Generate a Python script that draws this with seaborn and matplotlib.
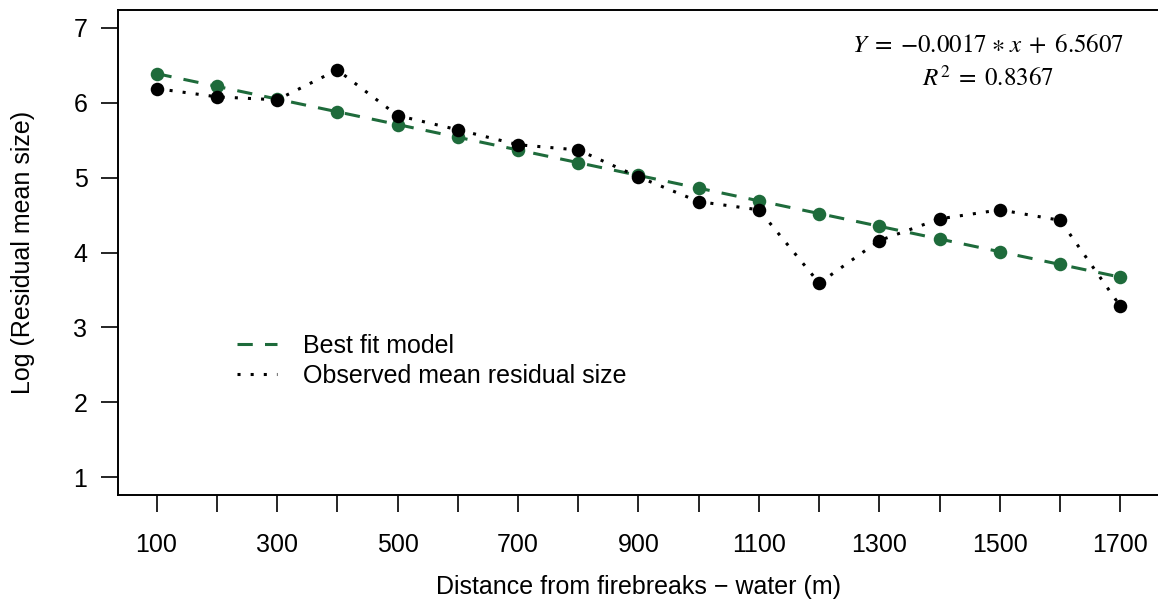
import matplotlib
matplotlib.use("Agg")
import matplotlib.pyplot as plt
import seaborn as sns
import pandas as pd

# Distance from firebreaks (m)
distance = [100, 200, 300, 400, 500, 600, 700, 800, 900,
            1000, 1100, 1200, 1300, 1400, 1500, 1600, 1700]
# Observed mean residual size (log scale)
observed = [6.19, 6.08, 6.04, 6.44, 5.83, 5.64, 5.44, 5.37, 5.01,
            4.68, 4.57, 3.59, 4.16, 4.45, 4.57, 4.43, 3.28]
# Fitted values of the linear model
fitted = [6.39, 6.22, 6.05, 5.88, 5.71, 5.54, 5.37, 5.20, 5.03,
          4.86, 4.69, 4.52, 4.35, 4.18, 4.01, 3.84, 3.67]

x_ticks = list(range(100, 1800, 100))
x_labels = [str(v) if (v - 100) % 200 == 0 else "" for v in x_ticks]
y_ticks = [1, 2, 3, 4, 5, 6, 7]

equation = r"$Y\;=\;{-}0.0017\;{\ast}\;x\;+\;6.5607$"
r_squared = r"$R^{2}\;=\;0.8367$"

GREEN = "#1E6B3B"
FS = 18

sns.set_style("ticks")
plt.rcParams["font.family"] = ["Liberation Sans", "DejaVu Sans"]
plt.rcParams["mathtext.fontset"] = "stix"
plt.rcParams["text.color"] = "black"
plt.rcParams["axes.labelcolor"] = "black"

df = pd.DataFrame({"distance": distance, "observed": observed, "fitted": fitted})

W, H = 1158, 604
fig = plt.figure(figsize=(W / 100, H / 100), dpi=100)
ax = fig.add_axes([118 / W, 1 - 495 / H, 1041 / W, 485 / H])

sns.lineplot(data=df, x="distance", y="fitted", ax=ax, color=GREEN,
             linewidth=2.2, linestyle=(0, (5, 4)), label="Best fit model",
             zorder=2)
sns.scatterplot(data=df, x="distance", y="fitted", ax=ax, color=GREEN,
                s=95, linewidth=0, zorder=3, legend=False)
sns.lineplot(data=df, x="distance", y="observed", ax=ax, color="black",
             linewidth=2.2, linestyle=(0, (1, 3.3)),
             label="Observed mean residual size", zorder=4)
sns.scatterplot(data=df, x="distance", y="observed", ax=ax, color="black",
                s=95, linewidth=0, zorder=5, legend=False)

ax.set_xlim(36, 1764)
ax.set_ylim(0.76, 7.24)
ax.set_xticks(x_ticks)
ax.set_xticklabels(x_labels)
ax.set_yticks(y_ticks)
ax.set_yticklabels([str(v) for v in y_ticks])

for side in ["left", "right", "top", "bottom"]:
    ax.spines[side].set_visible(True)
    ax.spines[side].set_color("black")
    ax.spines[side].set_linewidth(1.4)

ax.tick_params(axis="x", length=12, width=1.2, pad=15, labelsize=FS,
               colors="black")
ax.tick_params(axis="y", length=12, width=1.2, pad=10, labelsize=FS,
               colors="black")

ax.set_xlabel("Distance from firebreaks \u2212 water (m)", fontsize=FS)
ax.set_ylabel("Log (Residual mean size)", fontsize=FS)
ax.xaxis.set_label_coords(0.5, (495 - 575) / 485)
ax.yaxis.set_label_coords((35 - 118) / 1041, 0.5)

leg = ax.legend(loc="upper left", bbox_to_anchor=(237 / W, 1 - 334 / H),
                bbox_transform=fig.transFigure, frameon=False, fontsize=FS,
                handlelength=1.6, handletextpad=1.05, labelspacing=0.22,
                borderpad=0, borderaxespad=0)
for t in leg.get_texts():
    t.set_color("black")

fig.text(988 / W, 1 - 45 / H, equation, ha="center", va="center",
         fontsize=18, color="black")
fig.text(988 / W, 1 - 78 / H, r_squared, ha="center", va="center",
         fontsize=18, color="black")

fig.savefig("out.png", dpi=100)
